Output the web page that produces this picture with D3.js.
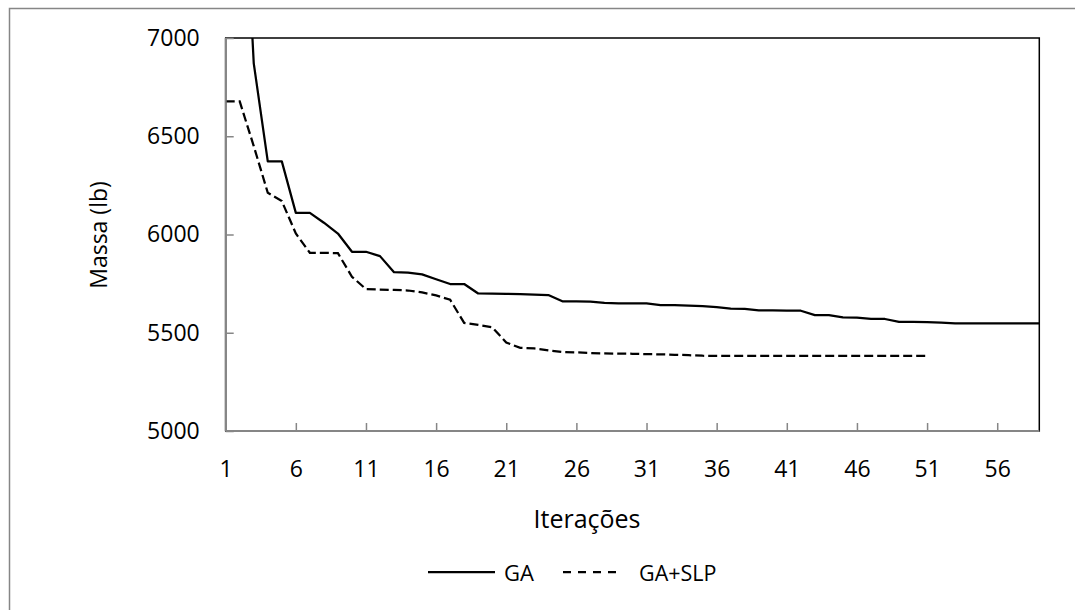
<!DOCTYPE html>
<html>
<head>
<meta charset="utf-8">
<script src="https://cdn.jsdelivr.net/npm/d3@7"></script>
<style>
  html, body { margin: 0; padding: 0; background: #fff; }
  svg { display: block; }
  text { font-family: "Open Sans", "Noto Sans", sans-serif; fill: #000; }
</style>
</head>
<body>
<svg id="chart" width="1075" height="610"></svg>
<script>
// Iteration numbers (category axis)
const iterations = d3.range(1, 60);

// Best mass per iteration, GA alone (lb)
const gaMass = [
  9000, 8250, 6871, 6372, 6372, 6110, 6110, 6060, 6005, 5912,
  5912, 5890, 5808, 5806, 5797, 5772, 5748, 5748, 5700, 5699,
  5698, 5696, 5694, 5692, 5660, 5660, 5659, 5652, 5650, 5650,
  5649, 5641, 5640, 5638, 5635, 5630, 5623, 5622, 5614, 5614,
  5613, 5612, 5590, 5590, 5578, 5577, 5571, 5570, 5555, 5555,
  5554, 5551, 5548, 5548, 5548, 5548, 5548, 5548, 5548
];

// Best mass per iteration, GA + SLP (lb)
const gaSlpMass = [
  6677, 6677, 6450, 6212, 6170, 6005, 5907, 5907, 5905, 5785,
  5722, 5720, 5718, 5715, 5705, 5690, 5668, 5550, 5540, 5528,
  5450, 5423, 5420, 5410, 5402, 5400, 5397, 5395, 5394, 5393,
  5391, 5390, 5388, 5386, 5383, 5382, 5382, 5382, 5382, 5382,
  5382, 5382, 5382, 5382, 5382, 5382, 5382, 5382, 5382, 5382,
  5382
];

const xTickValues = [1, 6, 11, 16, 21, 26, 31, 36, 41, 46, 51, 56];
const yTickValues = [5000, 5500, 6000, 6500, 7000];

const seriesNames = ["GA", "GA+SLP"];
const xTitle = "Iterações";
const yTitle = "Massa (lb)";

const svg = d3.select("#chart");
const axisGray = "#868686";

// Outer chart frame
svg.append("rect")
  .attr("x", 9.5).attr("y", 8.5)
  .attr("width", 1100).attr("height", 700)
  .attr("fill", "none").attr("stroke", axisGray).attr("stroke-width", 1.5);

const plot = { left: 225.7, right: 1039.3, top: 38, bottom: 431 };

const x = d3.scaleLinear().domain([1, 59]).range([plot.left, plot.right]);
const y = d3.scaleLinear().domain([5000, 7000]).range([plot.bottom, plot.top]);

// Plot area border
svg.append("rect")
  .attr("x", plot.left).attr("y", plot.top)
  .attr("width", plot.right - plot.left).attr("height", plot.bottom - plot.top)
  .attr("fill", "none").attr("stroke", "#000").attr("stroke-width", 1.5);

svg.append("clipPath").attr("id", "plotClip")
  .append("rect")
  .attr("x", plot.left).attr("y", plot.top)
  .attr("width", plot.right - plot.left).attr("height", plot.bottom - plot.top);

const line = d3.line()
  .x((d, i) => x(iterations[i]))
  .y(d => y(d));

const lines = svg.append("g").attr("clip-path", "url(#plotClip)");

lines.append("path")
  .datum(gaMass)
  .attr("d", line)
  .attr("fill", "none")
  .attr("stroke", "#000")
  .attr("stroke-width", 2.25)
  .attr("stroke-linejoin", "round");

lines.append("path")
  .datum(gaSlpMass)
  .attr("d", line)
  .attr("fill", "none")
  .attr("stroke", "#000")
  .attr("stroke-width", 2.25)
  .attr("stroke-dasharray", "9,4");

// Axes with inward tick marks
const xAxis = d3.axisBottom(x)
  .tickValues(xTickValues)
  .tickSize(-8)
  .tickPadding(30)
  .tickFormat(d3.format("d"));

const yAxis = d3.axisLeft(y)
  .tickValues(yTickValues)
  .tickSize(-8)
  .tickPadding(26)
  .tickFormat(d3.format("d"));

const gx = svg.append("g")
  .attr("transform", `translate(0,${plot.bottom})`)
  .call(xAxis);
const gy = svg.append("g")
  .attr("transform", `translate(${plot.left},0)`)
  .call(yAxis);

[gx, gy].forEach(g => {
  g.select(".domain").attr("stroke", axisGray).attr("stroke-width", 2);
  g.selectAll(".tick line").attr("stroke", axisGray).attr("stroke-width", 1.5);
  g.selectAll(".tick text")
    .attr("font-size", 23)
    .attr("font-family", "Open Sans")
    .attr("fill", "#000");
});
gx.select(".domain").attr("d", `M${plot.left},0H${plot.right}`);
gy.select(".domain").attr("d", `M0,${plot.bottom}V${plot.top}`);

// Axis titles
svg.append("text")
  .attr("x", 587).attr("y", 518)
  .attr("text-anchor", "middle").attr("dominant-baseline", "central")
  .attr("font-size", 25)
  .text(xTitle);

svg.append("text")
  .attr("transform", "translate(98,235) rotate(-90)")
  .attr("text-anchor", "middle").attr("dominant-baseline", "central")
  .attr("font-size", 23)
  .text(yTitle);

// Legend
const legendY = 572;
const legend = svg.append("g");
legend.append("line")
  .attr("x1", 428).attr("x2", 495).attr("y1", legendY).attr("y2", legendY)
  .attr("stroke", "#000").attr("stroke-width", 2.25);
legend.append("text")
  .attr("x", 504).attr("y", legendY)
  .attr("dominant-baseline", "central")
  .attr("font-size", 22)
  .text(seriesNames[0]);
legend.append("line")
  .attr("x1", 563).attr("x2", 622).attr("y1", legendY).attr("y2", legendY)
  .attr("stroke", "#000").attr("stroke-width", 2.25)
  .attr("stroke-dasharray", "8,7");
legend.append("text")
  .attr("x", 639).attr("y", legendY)
  .attr("dominant-baseline", "central")
  .attr("font-size", 21.5)
  .text(seriesNames[1]);
</script>
</body>
</html>
